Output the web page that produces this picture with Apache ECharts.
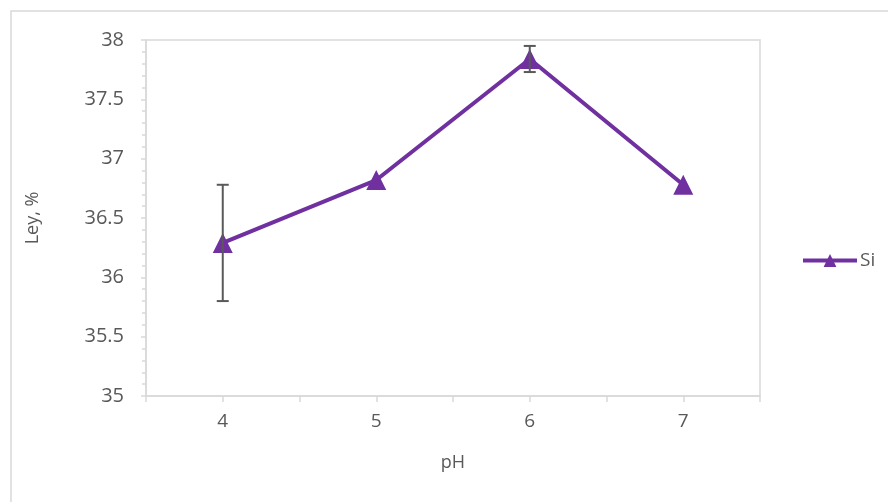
<!DOCTYPE html>
<html lang="en">
<head>
    <meta charset="UTF-8">
    <title>Ley vs pH</title>
    <script src="https://cdn.jsdelivr.net/npm/echarts@6/dist/echarts.min.js"></script>
    <style>
        body { margin: 0; background: #fff; }
    </style>
</head>
<body>
<div id="main" style="width: 888px;height:502px;"></div>
<script type="text/javascript">
    var chart = echarts.init(document.getElementById('main'));

    // datos
    var phValues = [4, 5, 6, 7];
    var leyValues = [36.29, 36.82, 37.84, 36.78];
    var errLow = [35.80, 36.82, 37.73, 36.78];
    var errHigh = [36.78, 36.82, 37.95, 36.78];
    var seriesName = 'Si';

    var textColor = '#595959';
    var gridColor = '#d9d9d9';
    var purple = '#7030A0';
    var font = 'Open Sans';

    var option = {
        animation: false,
        backgroundColor: '#fff',
        graphic: [{
            type: 'rect',
            shape: { x: 11, y: 11, width: 900, height: 600 },
            style: { fill: 'none', stroke: gridColor, lineWidth: 1.5 },
            silent: true
        }],
        grid: {
            left: 146, top: 40, width: 614, height: 356,
            show: true, borderColor: gridColor, borderWidth: 1.5
        },
        legend: {
            left: 796, top: 246,
            data: [seriesName],
            itemWidth: 54, itemHeight: 16,
            lineStyle: { width: 4 },
            textStyle: { color: textColor, fontSize: 19, fontFamily: font, padding: [0, 0, 0, -2] },
            itemGap: 4
        },
        xAxis: {
            type: 'value',
            min: 3.5, max: 7.5, interval: 0.5,
            name: 'pH', nameLocation: 'middle', nameGap: 58,
            nameTextStyle: { color: textColor, fontSize: 18, fontFamily: font },
            axisLine: { lineStyle: { color: gridColor, width: 1.5 } },
            axisTick: { show: true, length: 6, lineStyle: { color: gridColor, width: 1.5 } },
            axisLabel: {
                color: textColor, fontSize: 19, fontFamily: font, margin: 16,
                formatter: function (v) { return Number.isInteger(v) ? String(v) : ''; }
            },
            splitLine: { show: false }
        },
        yAxis: {
            type: 'value',
            min: 35, max: 38, interval: 0.5,
            name: 'Ley, %', nameLocation: 'middle', nameGap: 104,
            nameTextStyle: { color: textColor, fontSize: 18, fontFamily: font },
            axisLine: { show: true, lineStyle: { color: gridColor, width: 1.5 } },
            axisTick: { show: true, length: 5, lineStyle: { color: gridColor, width: 1.5 } },
            minorTick: { show: true, splitNumber: 5, length: 4, lineStyle: { color: gridColor, width: 1.5 } },
            axisLabel: {
                color: textColor, fontSize: 20, fontFamily: font, margin: 22,
                formatter: function (v) { return String(v); }
            },
            splitLine: { show: false }
        },
        series: [{
            name: seriesName,
            type: 'line',
            data: phValues.map(function (p, i) { return [p, leyValues[i]]; }),
            symbol: 'triangle',
            symbolSize: 20,
            lineStyle: { color: purple, width: 4 },
            itemStyle: { color: purple },
            z: 3
        }, {
            type: 'custom',
            data: phValues.map(function (p, i) { return [p, errLow[i], errHigh[i]]; }),
            renderItem: function (params, api) {
                var lo = api.coord([api.value(0), api.value(1)]);
                var hi = api.coord([api.value(0), api.value(2)]);
                if (Math.abs(hi[1] - lo[1]) < 1) return;
                var w = 6;
                var st = { stroke: '#595959', lineWidth: 2 };
                return {
                    type: 'group',
                    children: [
                        { type: 'line', shape: { x1: hi[0], y1: hi[1], x2: lo[0], y2: lo[1] }, style: st },
                        { type: 'line', shape: { x1: hi[0] - w, y1: hi[1], x2: hi[0] + w, y2: hi[1] }, style: st },
                        { type: 'line', shape: { x1: lo[0] - w, y1: lo[1], x2: lo[0] + w, y2: lo[1] }, style: st }
                    ]
                };
            },
            silent: true,
            z: 4
        }]
    };

    chart.setOption(option);
</script>
</body>
</html>
